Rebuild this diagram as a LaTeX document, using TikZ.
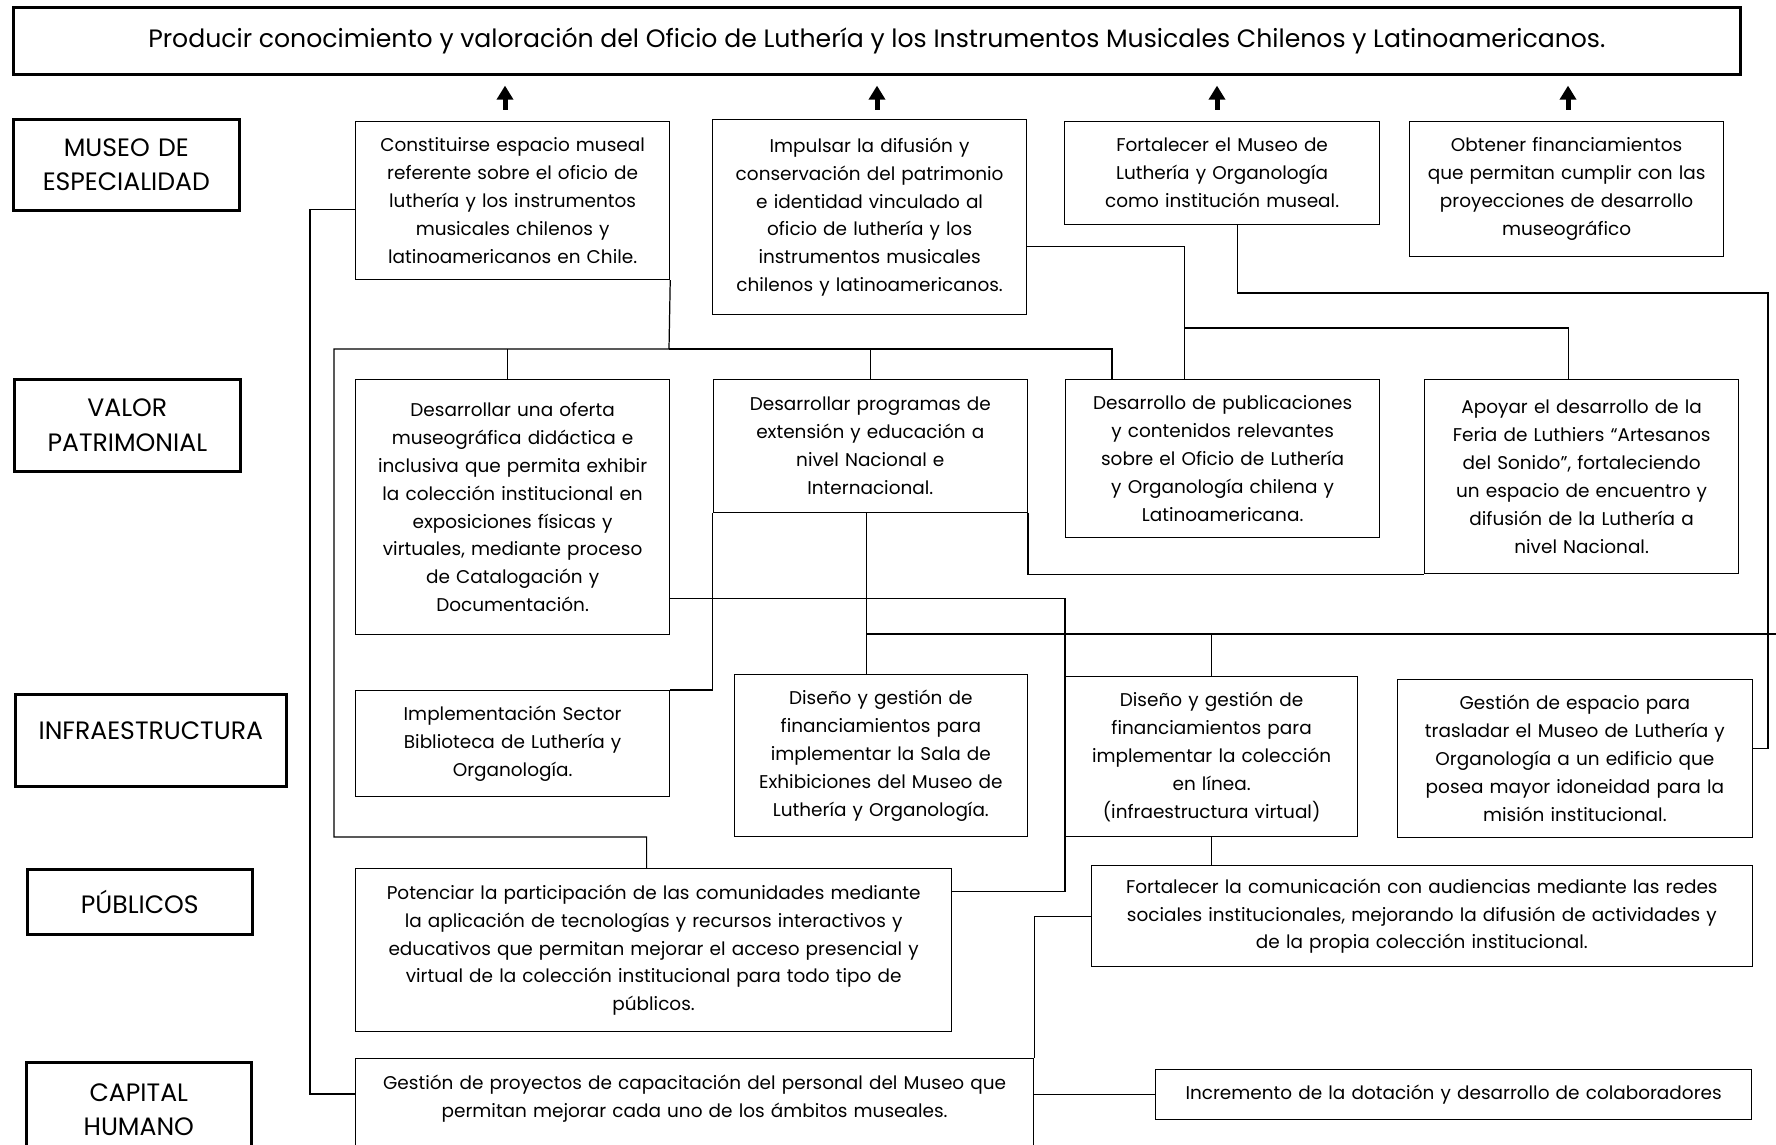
\documentclass[tikz,border=0pt]{standalone}
\usepackage{fontspec}
\setmainfont{Poppins}
\usetikzlibrary{arrows.meta}

\begin{document}
\begin{tikzpicture}[x=0.2mm, y=-0.2mm,
  box/.style={draw, line width=0.7pt, fill=white, anchor=north west, align=center, inner xsep=0pt, inner ysep=1pt, font=\fontsize{10.5}{15.9}\selectfont},
  cat/.style={draw, line width=1.5pt, fill=white, anchor=north west, align=center, inner xsep=0pt, font=\fontsize{14.3}{19.5}\selectfont},
  link/.style={line width=0.7pt},
  uparrow/.style={line width=1mm, -{Triangle[width=3.2mm,length=2.8mm]}, shorten >=2mm}]
\useasboundingbox (0,0) rectangle (1776,1145);
\fill[white] (0,0) rectangle (1776,1145);
\clip (0,0) rectangle (1776,1145);

\node[cat, minimum width=345.4mm, minimum height=13.4mm, font=\fontsize{14.3}{18}\selectfont](top) at (12,6) {Producir conocimiento y valoración del Oficio de Luthería y los Instrumentos Musicales Chilenos y Latinoamericanos.};

% ambitos
\node[cat, text width=45.2mm, minimum height=18.2mm](K1) at (12,118) {MUSEO DE\\ESPECIALIDAD};
\node[cat, text width=45.2mm, minimum height=18.4mm](K2) at (13,378) {VALOR\\PATRIMONIAL};
\node[cat, text width=54.2mm, minimum height=18.4mm, text depth=3.9mm](K3) at (14,693) {INFRAESTRUCTURA};
\node[cat, text width=45mm, minimum height=13mm](K4) at (26,868) {PÚBLICOS};
\node[cat, text width=45mm, inner ysep=0pt, text height=7.8mm, text depth=25mm](K5) at (25,1061) {CAPITAL\\HUMANO};

% objetivos generales
\node[box, text width=62.8mm, minimum height=31.6mm](B1) at (355,121) {Constituirse espacio museal\\referente sobre el oficio de\\luthería y los instrumentos\\musicales chilenos y\\latinoamericanos en Chile.};
\node[box, text width=62.8mm, minimum height=39mm](B2) at (712,119) {Impulsar la difusión y\\conservación del patrimonio\\e identidad vinculado al\\oficio de luthería y los\\instrumentos musicales\\chilenos y latinoamericanos.};
\node[box, text width=63mm, minimum height=20.6mm](B3) at (1064,121) {Fortalecer el Museo de\\Luthería y Organología\\como institución museal.};
\node[box, text width=62.8mm, minimum height=27mm](B4) at (1409,121) {Obtener financiamientos\\que permitan cumplir con las\\proyecciones de desarrollo\\museográfico};

\node[box, text width=62.8mm, minimum height=51mm](C1) at (355,379) {Desarrollar una oferta\\museográfica didáctica e\\inclusiva que permita exhibir\\la colección institucional en\\exposiciones físicas y\\virtuales, mediante proceso\\de Catalogación y\\Documentación.};
\node[box, text width=62.8mm, minimum height=26.6mm](C2) at (712.7,379) {Desarrollar programas de\\extensión y educación a\\nivel Nacional e\\Internacional.};
\node[box, text width=62.8mm, minimum height=31.6mm](C3) at (1065,379) {Desarrollo de publicaciones\\y contenidos relevantes\\sobre el Oficio de Luthería\\y Organología chilena y\\Latinoamericana.};
\node[box, text width=62.8mm, minimum height=38.8mm](C4) at (1424,379) {Apoyar el desarrollo de la\\Feria de Luthiers “Artesanos\\del Sonido”, fortaleciendo\\un espacio de encuentro y\\difusión de la Luthería a\\nivel Nacional.};

\node[box, text width=62.8mm, minimum height=21.2mm](D1) at (355,690) {Implementación Sector\\Biblioteca de Luthería y\\Organología.};
\node[box, text width=58.5mm, minimum height=32.4mm](D2) at (734,674) {Diseño y gestión de\\financiamientos para\\implementar la Sala de\\Exhibiciones del Museo de\\Luthería y Organología.};
\node[box, text width=58.4mm, minimum height=32mm](D3) at (1065,676) {Diseño y gestión de\\financiamientos para\\implementar la colección\\en línea.\\(infraestructura virtual)};
\node[box, text width=70.9mm, minimum height=31.6mm](D4) at (1397,679) {Gestión de espacio para\\trasladar el Museo de Luthería y\\Organología a un edificio que\\posea mayor idoneidad para la\\misión institucional.};

\node[box, text width=119.2mm, minimum height=32.6mm](E1) at (355,868) {Potenciar la participación de las comunidades mediante\\la aplicación de tecnologías y recursos interactivos y\\educativos que permitan mejorar el acceso presencial y\\virtual de la colección institucional para todo tipo de\\públicos.};
\node[box, text width=132.2mm, minimum height=20.2mm](E2) at (1090.7,865) {Fortalecer la comunicación con audiencias mediante las redes\\sociales institucionales, mejorando la difusión de actividades y\\de la propia colección institucional.};

\node[box, text width=135.6mm, inner ysep=0pt, text height=6.2mm, text depth=20mm](F1) at (355,1057.5) {Gestión de proyectos de capacitación del personal del Museo que\\permitan mejorar cada uno de los ámbitos museales.};
\node[box, text width=119.2mm, minimum height=10mm](F2) at (1155,1069) {Incremento de la dotación y desarrollo de colaboradores};

% flechas al objetivo
\coordinate (a1) at (505,110);
\coordinate (a2) at (877,110);
\coordinate (a3) at (1217,110);
\coordinate (a4) at (1568,110);
\draw[uparrow] (a1) -- (a1 |- top.south);
\draw[uparrow] (a2) -- (a2 |- top.south);
\draw[uparrow] (a3) -- (a3 |- top.south);
\draw[uparrow] (a4) -- (a4 |- top.south);

% conexiones
\coordinate (busA) at (669,349);
\coordinate (busL) at (334,349);
\coordinate (busLb) at (334,837);
\coordinate (busB) at (1184,328);
\coordinate (rightA) at (1768,293);
\coordinate (busC) at (866,634);
\coordinate (edgeC) at (1776,634);

\draw[link] ([yshift=-1.8mm]B1.west) -- ++(-45,0) |- ([yshift=-7.3mm]F1.north west);
\draw[link] (B1.south east) -- (busA) -- (busL) -- (busLb) -| ([xshift=-1.4mm]E1.north);
\draw[link] (busA) -| ([xshift=9.4mm]C3.north west);
\draw[link] ([xshift=-1mm]C1.north) -- ([xshift=-1mm]C1.north |- busA);
\draw[link] (C2.north) -- (C2.north |- busA);

\draw[link] ([yshift=-5.9mm]B2.east) -| ([xshift=-7.6mm]C3.north);
\draw[link] (busB) -| ([xshift=-2.6mm]C4.north);

\draw[link] ([xshift=3.1mm]B3.south) |- (rightA) |- ([yshift=2mm]D4.east);

\draw[link] ([yshift=-18.3mm]C1.east) -| (D3.south west) |- ([yshift=11.7mm]E1.east);

\draw[link] (C2.south west) |- (D1.north east);
\draw[link] ([xshift=-0.8mm]C2.south) -- ([xshift=-0.8mm]C2.south |- D2.north);
\draw[link] (busC) -- (edgeC);
\draw[link] (D3.north) -- (D3.north |- busC);
\draw[link] (C2.south east) |- (C4.south west);

\draw[link] (D3.south) -- (D3.south |- E2.north);
\draw[link] (E2.west) -| (F1.north east);
\draw[link] (F2.west) -- (F2.west -| F1.north east);

\end{tikzpicture}
\end{document}
